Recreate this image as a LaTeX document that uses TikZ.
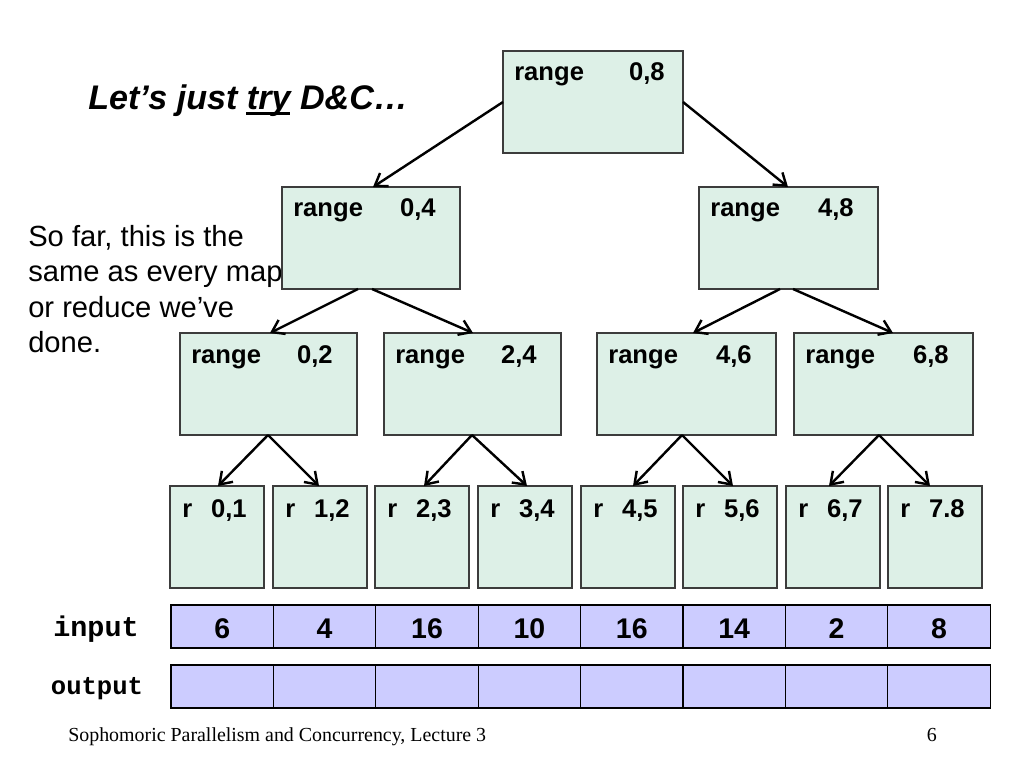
\documentclass[tikz,border=0pt]{standalone}
\usepackage{fontspec}
\setmainfont{Liberation Sans}
\newfontfamily\footfont{Liberation Serif}
\newfontfamily\codefont{Liberation Mono}
\usetikzlibrary{arrows.meta}
\newlength\pxu
\setlength\pxu{0.703125pt}
\newcommand\thickul[1]{\setbox0\hbox{#1}\rlap{\hspace*{-0.5pt}\rule[-3.2pt]{\wd0}{1.5pt}}\box0\relax}
\definecolor{boxfill}{RGB}{221,240,231}
\definecolor{cellfill}{RGB}{204,204,255}
\definecolor{boxline}{RGB}{60,60,60}
\begin{document}
\begin{tikzpicture}[x=0.703125pt,y=-0.703125pt,
  rbox/.style={draw=boxline, line width=0.9pt, fill=boxfill, anchor=north west,
    inner sep=0pt, outer sep=0pt, minimum height=102*\pxu},
  leafbox/.style={rbox, minimum width=94*\pxu},
  cellbox/.style={draw=black, line width=0.8pt, fill=cellfill, anchor=north west,
    inner sep=0pt, outer sep=0pt, minimum width=102.4*\pxu, minimum height=43*\pxu},
  lbl/.style={inner sep=0pt, font=\fontsize{18}{21.6}\selectfont\bfseries},
  numlbl/.style={inner sep=0pt, font=\fontsize{20}{24}\selectfont\bfseries},
  sidetxt/.style={anchor=base west, inner sep=0pt, font=\fontsize{20.5}{24}\selectfont},
  arr/.style={line width=1.7pt, -{Straight Barb[length=8pt,width=11pt]}}
]
\fill[white] (0,0) rectangle (1024,768);
\useasboundingbox (0,0) rectangle (1024,768);

% title
\node[anchor=base west, inner sep=0pt, font=\fontsize{24}{28}\selectfont\bfseries\itshape] (title) at (88,110) {Let’s just \thickul{try} D\&C…};

% side text
\node[sidetxt] (side1) at (28,247) {So far, this is the};
\node[sidetxt] (side2) at (28,282) {same as every map};
\node[sidetxt] (side3) at (28,317) {or reduce we’ve};
\node[sidetxt] (side4) at (28,352) {done.};

% tree boxes
\node[rbox, minimum width=180*\pxu] (top) at (503,51) {};
\node[rbox, minimum width=178*\pxu] (La) at (282,187) {};
\node[rbox, minimum width=179*\pxu] (Lb) at (699,187) {};
\node[rbox, minimum width=177*\pxu] (Ma) at (180,333) {};
\node[rbox, minimum width=177*\pxu] (Mb) at (384,333) {};
\node[rbox, minimum width=179*\pxu] (Mc) at (597,333) {};
\node[rbox, minimum width=179*\pxu] (Md) at (794,333) {};
\foreach \n/\x in {1/170,2/273,3/375,4/478,5/581,6/683,7/786,8/888}
  \node[leafbox] (leaf\n) at (\x,486) {};

% box labels
\node[lbl, anchor=base west] (topr) at ([shift={(11,30)}]top.north west) {range};
\node[lbl, anchor=base east] (topn) at ([shift={(-18,30)}]top.north east) {0,8};
\foreach \b/\v in {La/{0,4},Lb/{4,8},Ma/{0,2},Mb/{2,4},Mc/{4,6},Md/{6,8}}{
  \node[lbl, anchor=base west] (\b r) at ([shift={(11,30)}]\b.north west) {range};
  \node[lbl, anchor=base east] (\b n) at ([shift={(-24,30)}]\b.north east) {\v};
}
\foreach \n/\v in {1/{0,1},2/{1,2},3/{2,3},4/{3,4},5/{4,5},6/{5,6},7/{6,7},8/{7.8}}{
  \node[lbl, anchor=base west] (leaf\n r) at ([shift={(12,31)}]leaf\n.north west) {r};
  \node[lbl, anchor=base east] (leaf\n n) at ([shift={(-17,31)}]leaf\n.north east) {\v};
}

% arrows
\draw[arr] ([yshift=-51*\pxu]top.north west) -- ([xshift=91*\pxu]La.north west);
\draw[arr] ([yshift=-51*\pxu]top.north east) -- ([xshift=89*\pxu]Lb.north west);
\draw[arr] ([xshift=76*\pxu]La.south west) -- ([xshift=90*\pxu]Ma.north west);
\draw[arr] ([xshift=90*\pxu]La.south west) -- ([xshift=89*\pxu]Mb.north west);
\draw[arr] ([xshift=81*\pxu]Lb.south west) -- ([xshift=96*\pxu]Mc.north west);
\draw[arr] ([xshift=94*\pxu]Lb.south west) -- ([xshift=99*\pxu]Md.north west);
\draw[arr] ([xshift=88*\pxu]Ma.south west) -- ([xshift=48*\pxu]leaf1.north west);
\draw[arr] ([xshift=88*\pxu]Ma.south west) -- ([xshift=46*\pxu]leaf2.north west);
\draw[arr] ([xshift=88*\pxu]Mb.south west) -- ([xshift=49*\pxu]leaf3.north west);
\draw[arr] ([xshift=88*\pxu]Mb.south west) -- ([xshift=49*\pxu]leaf4.north west);
\draw[arr] ([xshift=85*\pxu]Mc.south west) -- ([xshift=52*\pxu]leaf5.north west);
\draw[arr] ([xshift=85*\pxu]Mc.south west) -- ([xshift=50*\pxu]leaf6.north west);
\draw[arr] ([xshift=85*\pxu]Md.south west) -- ([xshift=43*\pxu]leaf7.north west);
\draw[arr] ([xshift=85*\pxu]Md.south west) -- ([xshift=42*\pxu]leaf8.north west);

% input / output rows
\node[anchor=base, inner sep=0pt, font=\codefont\bfseries\fontsize{20}{24}\selectfont] (inlbl) at (96,636) {input};
\node[anchor=base, inner sep=0pt, font=\codefont\bfseries\fontsize{18}{22}\selectfont] (outlbl) at (97,694) {output};
\foreach \i/\v in {0/6,1/4,2/16,3/10,4/16,5/14,6/2,7/8}{
  \node[cellbox] (in\i) at ({171+102.4*\i},605) {};
  \node[numlbl, anchor=base] (inv\i) at ({222.2+102.4*\i},638) {\v};
  \node[cellbox] (out\i) at ({171+102.4*\i},665) {};
}

% footer
\node[anchor=base west, inner sep=0pt, font=\footfont\fontsize{14}{16}\selectfont] (foot) at (68,741)
  {Sophomoric Parallelism and Concurrency, Lecture 3};
\node[anchor=base east, inner sep=0pt, font=\footfont\fontsize{14}{16}\selectfont] (pg) at (937,741) {6};
\end{tikzpicture}
\end{document}
